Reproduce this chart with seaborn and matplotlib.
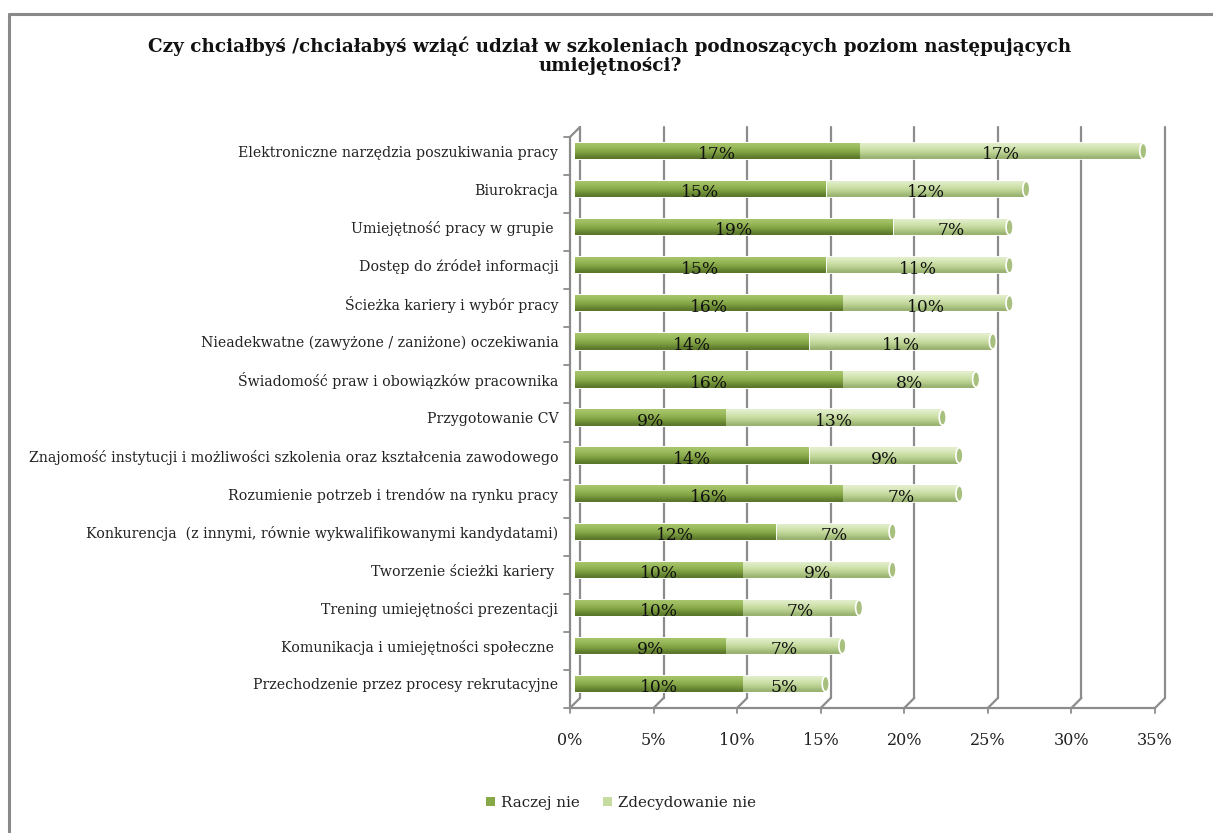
import numpy as np
import pandas as pd
import matplotlib
matplotlib.use("Agg")
import matplotlib.pyplot as plt
import matplotlib.transforms as mtrans
import seaborn as sns
from matplotlib.lines import Line2D
from matplotlib.patches import Patch, Ellipse
from matplotlib.colors import to_rgb

# ---------------- data ----------------
title = "Czy chciałbyś /chciałabyś wziąć udział w szkoleniach podnoszących poziom następujących\numiejętności?"
categories = [
    "Elektroniczne narzędzia poszukiwania pracy",
    "Biurokracja",
    "Umiejętność pracy w grupie ",
    "Dostęp do źródeł informacji",
    "Ścieżka kariery i wybór pracy",
    "Nieadekwatne (zawyżone / zaniżone) oczekiwania",
    "Świadomość praw i obowiązków pracownika",
    "Przygotowanie CV",
    "Znajomość instytucji i możliwości szkolenia oraz kształcenia zawodowego",
    "Rozumienie potrzeb i trendów na rynku pracy",
    "Konkurencja  (z innymi, równie wykwalifikowanymi kandydatami)",
    "Tworzenie ścieżki kariery ",
    "Trening umiejętności prezentacji",
    "Komunikacja i umiejętności społeczne ",
    "Przechodzenie przez procesy rekrutacyjne",
]
raczej_nie = [17, 15, 19, 15, 16, 14, 16, 9, 14, 16, 12, 10, 10, 9, 10]
zdecydowanie_nie = [17, 12, 7, 11, 10, 11, 8, 13, 9, 7, 7, 9, 7, 7, 5]
series_names = ["Raczej nie", "Zdecydowanie nie"]
x_ticks = [0, 5, 10, 15, 20, 25, 30, 35]
x_tick_labels = ["0%", "5%", "10%", "15%", "20%", "25%", "30%", "35%"]

# ---------------- style ----------------
dark_col = "#86a846"
light_col = "#c6dba0"
grid_col = "#8c8c8c"
dark_grad = ["#a8c66c", "#9cbc5e", "#91b252", "#83a444", "#6f8f36", "#5a762c"]
light_grad = ["#e4efcf", "#d8e8bb", "#cde0a9", "#c0d699", "#adc585", "#98b171"]

sns.set_theme(style="white")
plt.rcParams["font.family"] = ["DejaVu Serif", "DejaVu Sans"]

W, H = 1213, 833
fig = plt.figure(figsize=(W / 100, H / 100), dpi=100)
fig.patch.set_facecolor("white")

# outer border (top & left visible)
fig.add_artist(Line2D([9 / W, 9 / W], [0, 1 - 14 / H], color="#8a8a8a", lw=2.2,
                      transform=fig.transFigure))
fig.add_artist(Line2D([9 / W, 1], [1 - 14 / H, 1 - 14 / H], color="#8a8a8a", lw=2.2,
                      transform=fig.transFigure))

ax_l, ax_r, ax_t, ax_b = 575, 1160, 132, 703
ax = fig.add_axes([ax_l / W, 1 - ax_b / H, (ax_r - ax_l) / W, (ax_b - ax_t) / H])
axw, axh = ax_r - ax_l, ax_b - ax_t

df = pd.DataFrame({"cat": categories, "dark": raczej_nie, "light": zdecydowanie_nie})
df["total"] = df["dark"] + df["light"]

bar_w = 0.43
sns.barplot(data=df, y="cat", x="total", order=categories, color=light_col,
            saturation=1, width=bar_w, ax=ax, orient="h", zorder=3)
n_light = len(ax.patches)
sns.barplot(data=df, y="cat", x="dark", order=categories, color=dark_col,
            saturation=1, width=bar_w, ax=ax, orient="h", zorder=4)

xmax = x_ticks[-1]
ax.set_xlim(0, xmax)
ax.set_ylim(len(categories) - 0.5, -0.5)


def gradient_fill(patch, cols, z):
    x0, y0 = patch.get_x(), patch.get_y()
    w, h = patch.get_width(), patch.get_height()
    arr = np.array([to_rgb(c) for c in cols])[:, None, :]
    im = ax.imshow(arr, extent=(x0, x0 + w, y0 + h, y0), origin="upper",
                   aspect="auto", interpolation="bicubic", zorder=z)
    im.set_clip_path(patch)
    patch.set_edgecolor("white")
    patch.set_linewidth(1.3)


patches = list(ax.patches)
for i, p in enumerate(patches):
    if i < n_light:
        gradient_fill(p, light_grad, 3.5)
        # cylinder end cap
        ex = p.get_x() + p.get_width()
        ey = p.get_y() + p.get_height() / 2
        ax.add_patch(Ellipse((ex, ey), width=0.42, height=p.get_height() * 0.95,
                             facecolor="#a8c07e", edgecolor="white", lw=1.2, zorder=4.6))
    else:
        gradient_fill(p, dark_grad, 4.5)
        p.set_zorder(4)

ax.set_xlim(0, xmax)
ax.set_ylim(len(categories) - 0.5, -0.5)

# value labels
for i, (d, l) in enumerate(zip(raczej_nie, zdecydowanie_nie)):
    ax.text(d / 2, i + 0.1, f"{d}%", ha="center", va="center", fontsize=12.3,
            color="#111111", zorder=6)
    ax.text(d + l / 2, i + 0.1, f"{l}%", ha="center", va="center", fontsize=12.3,
            color="#111111", zorder=6)

# pseudo-3D walls and gridlines (axes fraction coordinates)
dx, dy = 5 / axw, 5 / axh
T = ax.transAxes
for t in x_ticks:
    xf = t / xmax
    ax.add_line(Line2D([xf + dx, xf + dx], [1 + dy, dy], color=grid_col, lw=1.6,
                       transform=T, clip_on=False, zorder=1))
    ax.add_line(Line2D([xf + dx, xf - dx], [dy, -dy], color=grid_col, lw=1.6,
                       transform=T, clip_on=False, zorder=1))
    ax.add_line(Line2D([xf - dx, xf - dx], [-dy, -dy - 5 / axh], color=grid_col, lw=1.3,
                       transform=T, clip_on=False, zorder=1))
# floor front edge
ax.add_line(Line2D([-dx, 1 - dx], [-dy, -dy], color=grid_col, lw=1.6,
                   transform=T, clip_on=False, zorder=1))
# left wall: front vertical and top slant
ax.add_line(Line2D([-dx, -dx], [-dy, 1 - dy], color=grid_col, lw=1.6,
                   transform=T, clip_on=False, zorder=1))
ax.add_line(Line2D([-dx, dx], [1 - dy, 1 + dy], color=grid_col, lw=1.6,
                   transform=T, clip_on=False, zorder=1))
# left wall tick marks at row boundaries
n = len(categories)
for k in range(n + 1):
    yf = 1 - k / n
    ax.add_line(Line2D([-dx - 6 / axw, -dx], [yf - dy, yf - dy], color=grid_col, lw=1.3,
                       transform=T, clip_on=False, zorder=1))

for s in ax.spines.values():
    s.set_visible(False)
ax.grid(False)
ax.set_facecolor("none")
ax.set_xlabel("")
ax.set_ylabel("")
ax.set_xticks(x_ticks)
ax.set_xticklabels(x_tick_labels, fontsize=11.5, color="#222222")
ax.tick_params(axis="x", length=0, pad=21)
off = mtrans.ScaledTranslation(-5 / 100, 0, fig.dpi_scale_trans)
for lab in ax.get_xticklabels():
    lab.set_transform(lab.get_transform() + off)
ax.tick_params(axis="y", length=0, pad=12, labelsize=10.2, labelcolor="#222222")

fig.text(610 / W, 1 - 56 / H, title, ha="center", va="center", fontsize=13.2,
         fontweight="bold", color="#111111", linespacing=1.1)

handles = [Patch(facecolor=dark_col, edgecolor="none"),
           Patch(facecolor=light_col, edgecolor="none")]
fig.legend(handles, series_names, loc="center", bbox_to_anchor=(621 / W, 1 - 803 / H),
           ncol=2, frameon=False, fontsize=10.8, handlelength=0.6, handleheight=0.6,
           handletextpad=0.4, columnspacing=1.6, labelcolor="#222222")

fig.savefig("out.png", dpi=100, facecolor="white")
